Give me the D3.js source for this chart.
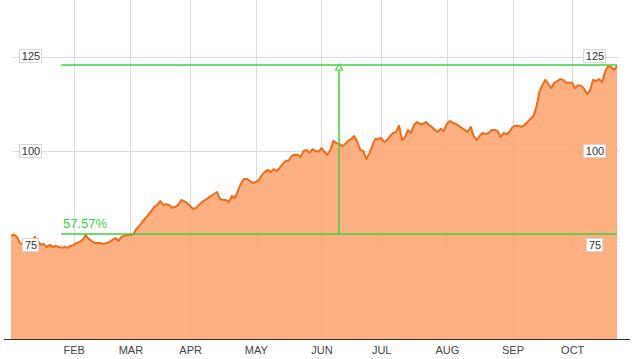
<!DOCTYPE html>
<html>
<head>
<meta charset="utf-8">
<script src="https://cdn.jsdelivr.net/npm/d3@7"></script>
<style>
  body { margin: 0; background: #fff; }
  svg { display: block; }
  .grid line { stroke: #dcdcdc; stroke-width: 1; shape-rendering: crispEdges; }
  .grid path { display: none; }
  .month text { font-family: "Liberation Sans Narrow", "Liberation Sans", Arial, sans-serif; font-size: 11px; fill: #444; }
  .month path, .month line { display: none; }
  .ylabel rect { fill: #fff; stroke: #d6d6d6; stroke-width: 1; shape-rendering: crispEdges; }
  .ylabel text { font-family: "Liberation Sans", Arial, sans-serif; font-size: 11px; fill: #333; }
</style>
</head>
<body>
<svg width="633" height="359"></svg>
<script>
//////////////////////////////////////////////////////////////////////
// DATA
//   one closing value per trading day
var prices = [
  77.4, 77.7, 77.1, 75.5, 75.2, 75.5, 75.8, 76.3, 77.1, 76.0,
  75.0, 75.2, 74.4, 75.0, 74.4, 74.7, 74.4, 74.2, 74.4, 74.2,
  74.7, 75.0, 75.5, 75.8, 76.3, 77.6, 76.6, 76.0, 75.5, 75.5,
  75.5, 75.2, 75.5, 75.8, 76.3, 76.8, 76.0, 77.1, 77.4, 77.6,
  77.6, 77.9, 79.2, 80.0, 81.1, 82.1, 82.9, 84.0, 85.1, 85.6,
  86.6, 85.6, 85.8, 85.6, 84.8, 85.1, 85.6, 86.9, 86.6, 86.1,
  85.3, 84.5, 84.8, 85.6, 86.4, 86.9, 87.4, 88.0, 88.5, 89.0,
  87.2, 86.9, 86.9, 86.4, 88.0, 87.4, 89.3, 91.2, 92.5, 92.5,
  92.0, 91.4, 91.7, 92.2, 93.5, 94.3, 94.9, 94.3, 95.1, 94.6,
  95.4, 96.5, 97.3, 97.3, 98.6, 98.9, 98.9, 98.3, 99.9, 100.2,
  99.4, 100.4, 99.9, 99.7, 100.7, 99.7, 98.9, 100.2, 102.6, 102.0,
  101.8, 101.2, 101.8, 102.6, 103.1, 103.9, 102.3, 100.2, 99.9, 97.8,
  99.1, 101.2, 103.1, 103.1, 103.4, 102.3, 102.8, 103.9, 104.7, 105.0,
  106.6, 102.8, 103.6, 105.5, 104.7, 106.8, 107.6, 107.1, 107.1, 107.6,
  106.8, 106.3, 105.5, 105.0, 105.8, 105.2, 107.1, 107.9, 107.4, 107.1,
  106.6, 106.0, 105.5, 105.0, 106.3, 103.9, 102.8, 103.9, 104.7, 104.4,
  104.7, 105.5, 105.5, 105.2, 103.6, 104.7, 104.4, 105.0, 106.3, 106.6,
  106.6, 106.3, 106.8, 107.6, 108.4, 109.2, 111.6, 115.6, 117.4, 118.8,
  117.7, 116.6, 118.0, 118.5, 119.0, 118.8, 118.0, 118.0, 118.0, 116.6,
  117.4, 117.2, 116.4, 115.0, 116.1, 118.8, 118.5, 119.0, 118.2, 120.9,
  122.5, 122.2, 121.4, 122.5
];

// first trading day of each month (index into prices) and its label
var monthStarts = [21, 40, 60, 82, 104, 124, 146, 168, 188];
var monthLabels = ["FEB", "MAR", "APR", "MAY", "JUN", "JUL", "AUG", "SEP", "OCT"];

// value gridlines / labels
var yTicks = [75, 100, 125];

// measured move: from, to, where the arrow stands, and its label
var moveLow = 77.9;
var moveHigh = 122.75;
var moveFrom = 16.75;
var moveArrow = 110;
var moveLabel = "57.57%";
//////////////////////////////////////////////////////////////////////

// grab the svg context, its width and height
var svg = d3.select("svg");
var width = +svg.attr("width");
var height = +svg.attr("height");
var baseline = 339;

// index -> pixel and value -> pixel
var x = d3.scaleLinear()
          .domain([0, prices.length - 1])
          .range([11, 617]);

var y = d3.scaleLinear()
          .domain([50, 140])
          .range([baseline, 0]);

var plot = svg.append("g").attr("id", "plot");

// horizontal gridlines
plot.append("g")
    .attr("class", "grid")
    .attr("transform", "translate(12,0)")
    .call(d3.axisLeft(y)
            .tickValues(yTicks)
            .tickSize(-607)
            .tickFormat(""));

// vertical gridlines at month starts
plot.append("g")
    .attr("class", "grid")
    .attr("transform", "translate(0," + baseline + ")")
    .call(d3.axisBottom(x)
            .tickValues(monthStarts)
            .tickSize(-baseline)
            .tickFormat(""));

// filled area under the price line
var area = d3.area()
             .x(function(d, i) { return x(i); })
             .y0(baseline)
             .y1(function(d) { return y(d); });

plot.append("path")
    .datum(prices)
    .attr("d", area)
    .style("fill", "#fca673")
    .style("fill-opacity", 0.9);

// the price line itself
var line = d3.line()
             .x(function(d, i) { return x(i); })
             .y(function(d) { return y(d); });

plot.append("path")
    .datum(prices)
    .attr("d", line)
    .style("fill", "none")
    .style("stroke", "#ef6c1c")
    .style("stroke-width", 2)
    .style("stroke-linejoin", "round");

// bottom axis line
plot.append("line")
    .attr("x1", 4)
    .attr("x2", 630)
    .attr("y1", baseline + 0.5)
    .attr("y2", baseline + 0.5)
    .style("stroke", "#333")
    .style("stroke-width", 1);

// month labels
plot.append("g")
    .attr("class", "month")
    .attr("transform", "translate(0," + (baseline + 4) + ")")
    .call(d3.axisBottom(x)
            .tickValues(monthStarts)
            .tickSize(0)
            .tickFormat(function(d, i) { return monthLabels[i]; }));

// measured move annotation (green)
var green = "#3dd23d";
var note = plot.append("g").attr("id", "move");

note.selectAll("line.level")
    .data([moveLow, moveHigh])
    .enter()
    .append("line")
    .attr("class", "level")
    .attr("x1", x(moveFrom))
    .attr("x2", x(prices.length - 1))
    .attr("y1", function(d) { return Math.round(y(d)); })
    .attr("y2", function(d) { return Math.round(y(d)); })
    .style("stroke", green)
    .style("stroke-width", 1.5);

note.append("line")
    .attr("x1", Math.round(x(moveArrow)))
    .attr("x2", Math.round(x(moveArrow)))
    .attr("y1", y(moveLow))
    .attr("y2", y(moveHigh))
    .style("stroke", green)
    .style("stroke-width", 1.5);

// small open arrow head at the top
var ax = Math.round(x(moveArrow));
var ay = Math.round(y(moveHigh));
note.append("path")
    .attr("d", "M" + ax + "," + (ay - 1) + "L" + (ax - 3.5) + "," + (ay + 5) + "L" + (ax + 3.5) + "," + (ay + 5) + "Z")
    .style("fill", "#fff")
    .style("stroke", green)
    .style("stroke-width", 1.2);

note.append("text")
    .attr("x", x(moveFrom) + 2)
    .attr("y", y(moveLow) - 6)
    .style("font-family", "'Liberation Sans', Arial, sans-serif")
    .style("font-size", "13px")
    .style("fill", green)
    .text(moveLabel);

// boxed value labels on both sides
function drawLabels(cx) {
  var g = plot.append("g")
              .attr("class", "ylabel")
              .selectAll("g")
              .data(yTicks)
              .enter()
              .append("g")
              .attr("transform", function(d) { return "translate(" + cx + "," + Math.round(y(d)) + ")"; });

  g.append("text")
   .attr("text-anchor", "middle")
   .attr("dy", "0.35em")
   .text(function(d) { return d; });

  // fit a white box behind each text
  g.each(function() {
    var t = d3.select(this).select("text");
    var b = t.node().getBBox();
    d3.select(this).insert("rect", "text")
      .attr("x", Math.round(b.x) - 2.5)
      .attr("y", -6.5)
      .attr("width", Math.round(b.width) + 4)
      .attr("height", 13);
  });
}

drawLabels(31);
drawLabels(595);
</script>
</body>
</html>
